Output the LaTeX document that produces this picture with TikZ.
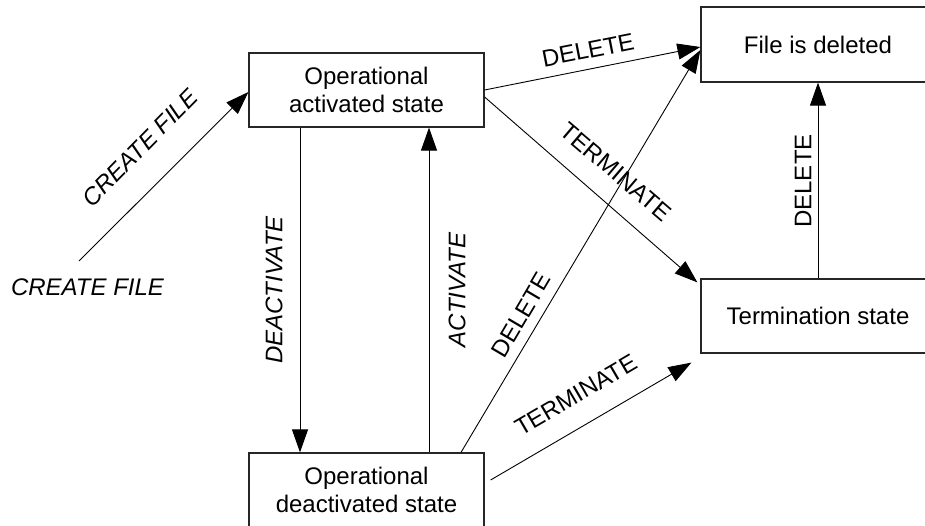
\documentclass[tikz,border=0pt]{standalone}
\usepackage{fontspec}
\setmainfont{Liberation Sans}
\usetikzlibrary{arrows.meta}
\begin{document}
\begin{tikzpicture}[x=1pt,y=-1pt,
  statebox/.style={draw=black!85,line width=1.2pt,minimum width=235pt,minimum height=74pt,align=center,inner sep=0pt,font=\fontsize{24}{28}\selectfont},
  conn/.style={draw=black,line width=0.9pt,-{Triangle[length=23pt,width=16pt]}},
  lbl/.style={inner sep=0pt,font=\fontsize{24}{28}\selectfont},
  ilbl/.style={lbl,font=\fontsize{24}{28}\selectfont\itshape}]
\useasboundingbox (0,0) rectangle (925,526);
\clip (0,0) rectangle (925,526);
\fill[white] (0,0) rectangle (925,526);
\node[statebox] (A) at (366.5,90) {Operational\\activated state};
\node[statebox,minimum width=234pt,minimum height=75pt] (F) at (818,44.5) {File is deleted};
\node[statebox,minimum width=234pt] (T) at (818,316) {Termination state};
\node[statebox] (D) at (366.5,490) {Operational\\deactivated state};
\coordinate (start) at (79,261);
% connectors
\draw[conn] (start) -- ([yshift=-2pt]A.west);
\draw[conn] (A.east) -- ([yshift=-2.5pt]F.west);
\draw[conn] ([yshift=-7pt]A.east) -- ([xshift=-3pt,yshift=-4pt]T.north west);
\draw[conn] ([xshift=-66.5pt]A.south) -- ([xshift=-66.5pt]D.north);
\draw[conn] ([xshift=62.5pt]D.north) -- ([xshift=62.5pt]A.south);
\draw[conn] ([xshift=94.5pt]D.north) -- ([yshift=-5.5pt]F.west);
\draw[conn] ([xshift=6pt,yshift=10pt]D.east) -- ([xshift=-9pt,yshift=-9pt]T.south west);
\draw[conn] (T.north) -- (F.south);
% labels
\node[ilbl,rotate=45.5] (l1) at (140,148) {CREATE FILE};
\node[ilbl] (l2) at (87.5,287) {CREATE FILE};
\node[lbl,rotate=11.1] (l3) at (588,50) {DELETE};
\node[lbl,rotate=-40.5] (l4) at (616,172) {TERMINATE};
\node[ilbl,rotate=90] (l5) at (274,290) {DEACTIVATE};
\node[ilbl,rotate=90] (l6) at (457,290) {ACTIVATE};
\node[lbl,rotate=59.5] (l7) at (521,315) {DELETE};
\node[lbl,rotate=30.3] (l8) at (576,395) {TERMINATE};
\node[lbl,rotate=90] (l9) at (803,181) {DELETE};
\end{tikzpicture}
\end{document}
